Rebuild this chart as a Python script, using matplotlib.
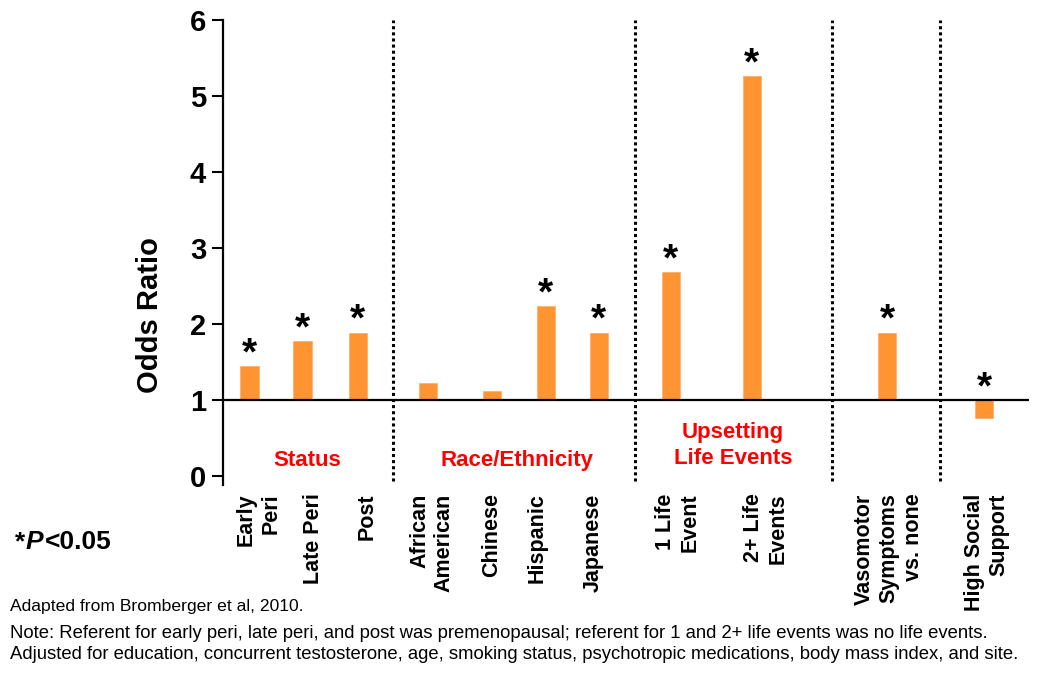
"""
Odds ratio of depressive symptoms by status, race, life events etc.
"""
import matplotlib.pyplot as plt

plt.rcParams['font.family'] = ['Liberation Sans', 'DejaVu Sans']

categories = ['Early\nPeri', 'Late Peri', 'Post',
              'African\nAmerican', 'Chinese', 'Hispanic', 'Japanese',
              '1 Life\nEvent', '2+ Life\nEvents',
              'Vasomotor\nSymptoms\nvs. none', 'High Social\nSupport']
odds_ratio = [1.45, 1.78, 1.89, 1.23, 1.12, 2.24, 1.89, 2.68, 5.26, 1.89, 0.77]
significant = [True, True, True, False, False, True, True, True, True, True, True]
groups = ['Status', 'Race/Ethnicity', 'Upsetting\nLife Events']

# layout (axes spans 0..80.6 in x)
bar_x = [2.7, 8.0, 13.5, 20.5, 26.9, 32.3, 37.6, 44.8, 52.9, 66.4, 76.1]
label_x = [3.6, 9.1, 14.4, 20.9, 26.9, 31.4, 37.0, 45.5, 54.3, 66.6, 76.4]
sep_x = [17.0, 41.2, 60.9, 71.7]
group_x = [8.4, 29.4, 51.0]
group_y = [0.21, 0.21, 0.4]

fig = plt.figure(figsize=(10.5, 6.82), dpi=100)
ax = fig.add_axes([0.2121, 0.2889, 0.7680, 0.6818])

base = 1.0
ax.bar(bar_x, [v - base for v in odds_ratio], bottom=base, width=1.85,
       color='#FF9433', edgecolor='#FFB070', linewidth=0.6, zorder=2)
ax.axhline(base, color='black', lw=1.6, zorder=3)

for x, v, s in zip(bar_x, odds_ratio, significant):
    if s:
        ax.text(x, max(v, base) - 0.08, '*', ha='center', va='bottom',
                fontsize=28, fontweight='bold', zorder=4)

for x in sep_x:
    ax.plot([x, x], [-0.06, 6.0], color='black', lw=2.2,
            linestyle=(0, (1, 1)), zorder=1, clip_on=False)

for x, y, g in zip(group_x, group_y, groups):
    ax.text(x, y, g, ha='center', va='center', color='red',
            fontsize=16, fontweight='bold', linespacing=1.3)

ax.set_xlim(0, 80.6)
ax.set_ylim(-0.114, 6.0)
ax.set_yticks(range(7))
ax.tick_params(axis='y', labelsize=21, width=1.5, length=8, pad=4)
for t in ax.get_yticklabels():
    t.set_fontweight('bold')
ax.set_xticks(label_x)
ax.set_xticklabels(categories, rotation=90, fontsize=15.5, fontweight='bold',
                   va='top', ha='center', multialignment='right',
                   linespacing=1.2)
ax.tick_params(axis='x', length=0, pad=6)

ax.spines['top'].set_visible(False)
ax.spines['right'].set_visible(False)
ax.spines['bottom'].set_visible(False)
ax.spines['left'].set_linewidth(1.6)
ax.set_ylabel('Odds Ratio', fontsize=21, fontweight='bold')
ax.yaxis.set_label_coords(-0.073, 2.12, transform=ax.get_yaxis_transform())

# significance note
fig.text(15 / 1050, 1 - 542 / 682, '*', fontsize=19, fontweight='bold', va='center')
fig.text(26 / 1050, 1 - 542 / 682, 'P', fontsize=19, fontweight='bold',
         style='italic', va='center')
fig.text(45 / 1050, 1 - 542 / 682, '<0.05', fontsize=19, fontweight='bold', va='center')

fig.text(10 / 1050, 1 - 607 / 682, 'Adapted from Bromberger et al, 2010.',
         fontsize=12.6, va='center')
fig.text(10 / 1050, 1 - 644 / 682,
         'Note: Referent for early peri, late peri, and post was premenopausal; '
         'referent for 1 and 2+ life events was no life events.\n'
         'Adjusted for education, concurrent testosterone, age, smoking status, '
         'psychotropic medications, body mass index, and site.',
         fontsize=13.3, va='center', linespacing=1.38)

plt.savefig('out.png', dpi=100)
